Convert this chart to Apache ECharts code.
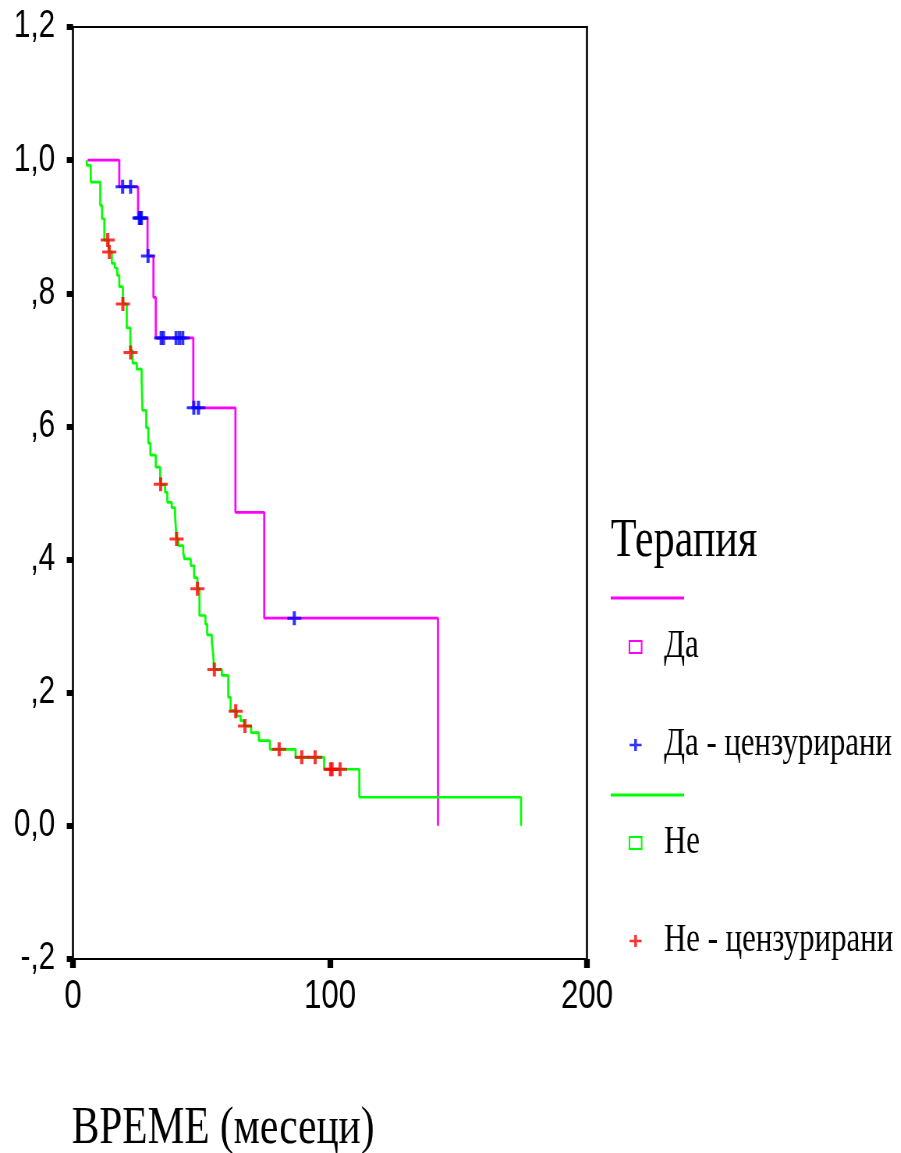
<!DOCTYPE html>
<html>
<head>
<meta charset="utf-8">
<script src="https://cdn.jsdelivr.net/npm/echarts@6/dist/echarts.min.js"></script>
<style>
  html, body { margin: 0; padding: 0; background: #ffffff; overflow: hidden; }
  #wrap { width: 901px; height: 1153px; overflow: hidden; }
  /* the drawing is laid out wide and squeezed horizontally, giving the narrow lettering */
  #chart { width: 1155px; height: 1153px; transform: scaleX(0.78); transform-origin: 0 0; }
</style>
</head>
<body>
<div id="wrap"><div id="chart"></div></div>
<script>
// Kaplan–Meier survival by therapy (time in months)

// group "Да": event times and survival after each step
const yesTimes = [5.7, 18.0, 25.3, 29.0, 31.3, 32.2, 46.8, 63.2, 74.4, 142.0];
const yesSurv  = [1.000, 0.960, 0.913, 0.856, 0.794, 0.733, 0.628, 0.471, 0.312, 0.000];

// group "Да": censored observations
const yesCensTimes = [19.3, 22.4, 25.8, 26.2, 26.6, 29.2, 34.3, 35.2, 40.1, 41.4, 42.7, 47.0, 48.8, 86.1];
const yesCensSurv  = [0.960, 0.960, 0.913, 0.913, 0.913, 0.856, 0.733, 0.733, 0.733, 0.733, 0.733, 0.628, 0.628, 0.312];

// group "Не": event times and survival after each step
const noTimes = [5.3, 5.4, 6.9, 10.6, 11.3, 12.2, 13.9, 15.1, 16.3, 17.2,
                 18.0, 19.4, 20.9, 22.3, 23.2, 24.8, 26.7, 27.0, 28.5, 29.3,
                 30.1, 32.2, 33.9, 34.2, 35.8, 36.7, 38.4, 39.7, 40.3, 41.0,
                 42.9, 43.3, 45.8, 47.1, 48.4, 49.2, 51.5, 52.2, 54.0, 54.6,
                 54.8, 57.9, 60.4, 61.3, 63.7, 65.2, 66.5, 69.3, 72.3, 76.6,
                 86.6, 97.7, 111.4, 174.3];
const noSurv  = [1.000, 0.992, 0.967, 0.932, 0.912, 0.880, 0.862, 0.845, 0.838, 0.827,
                 0.810, 0.784, 0.748, 0.714, 0.695, 0.686, 0.669, 0.624, 0.598, 0.575,
                 0.557, 0.539, 0.523, 0.512, 0.501, 0.486, 0.478, 0.466, 0.431, 0.421,
                 0.411, 0.401, 0.391, 0.373, 0.356, 0.316, 0.303, 0.287, 0.276, 0.256,
                 0.235, 0.226, 0.193, 0.173, 0.165, 0.158, 0.150, 0.140, 0.128, 0.115,
                 0.103, 0.085, 0.043, 0.000];

// group "Не": censored observations
const noCensTimes = [13.5, 14.1, 19.4, 22.4, 34.1, 40.3, 48.4, 55.0, 63.3, 66.9, 80.2, 89.0, 94.2, 100.2, 100.8, 103.9];
const noCensSurv  = [0.880, 0.862, 0.784, 0.711, 0.513, 0.431, 0.356, 0.235, 0.172, 0.150, 0.115, 0.103, 0.103, 0.085, 0.085, 0.085];

// axis ticks and their printed labels
const xTickValues = [0, 100, 200];
const xTickLabels = ['0', '100', '200'];
const yTickValues = [-0.2, 0.0, 0.2, 0.4, 0.6, 0.8, 1.0, 1.2];
const yTickLabels = ['-,2', '0,0', ',2', ',4', ',6', ',8', '1,0', '1,2'];

const legendTitle = 'Терапия';
const axisTitle = 'ВРЕМЕ (месеци)';
const seriesNames = ['Да', 'Да - цензурирани', 'Не', 'Не - цензурирани'];

const zip = (a, b) => a.map((v, i) => [v, b[i]]);
const pickLabel = (vals, labels) => (v) => {
  const i = vals.findIndex(t => Math.abs(t - v) < 1e-6);
  return i >= 0 ? labels[i] : '';
};

const SANS = '"Liberation Sans", Arial, sans-serif';
const SERIF = '"Liberation Serif", "Times New Roman", serif';
// plus mark, drawn wider than tall so it ends up square after the squeeze
const plusPath = 'path://M7,0H11V5.5H18V8.5H11V14H7V8.5H0V5.5H7Z';
const boxPath = 'path://M0,0H13V10H0Z';

const chart = echarts.init(document.getElementById('chart'), null, { renderer: 'canvas' });

chart.setOption({
  animation: false,
  backgroundColor: '#ffffff',
  grid: { left: 93.6, right: 402.4, top: 27, bottom: 194, containLabel: false },
  title: {
    text: axisTitle, left: 92, top: 1099, padding: 0,
    textStyle: { fontFamily: SERIF, fontSize: 53, fontWeight: 'normal', color: '#000', lineHeight: 60 }
  },
  xAxis: [{
    type: 'value', min: 0, max: 200, interval: 100, position: 'bottom',
    axisLine: { show: true, onZero: false, lineStyle: { color: '#000', width: 2 } },
    axisTick: { show: true, inside: false, length: 9, lineStyle: { color: '#000', width: 7.3 } },
    axisLabel: {
      show: true, margin: 18, showMinLabel: true, showMaxLabel: true,
      fontFamily: SANS, fontSize: 40, color: '#000',
      formatter: pickLabel(xTickValues, xTickLabels)
    },
    splitLine: { show: false }
  }, {
    type: 'value', min: 0, max: 200, interval: 100, position: 'top',
    axisLine: { show: true, onZero: false, lineStyle: { color: '#000', width: 2 } },
    axisTick: { show: false }, axisLabel: { show: false }, splitLine: { show: false }
  }],
  yAxis: [{
    type: 'value', min: -0.2, max: 1.2, interval: 0.2, position: 'left',
    axisLine: { show: true, onZero: false, lineStyle: { color: '#000', width: 2.6 } },
    axisTick: { show: true, inside: false, length: 8, lineStyle: { color: '#000', width: 6 } },
    axisLabel: {
      show: true, margin: 23, showMinLabel: true, showMaxLabel: true,
      fontFamily: SANS, fontSize: 38, color: '#000',
      formatter: pickLabel(yTickValues, yTickLabels)
    },
    splitLine: { show: false }
  }, {
    type: 'value', min: -0.2, max: 1.2, interval: 0.2, position: 'right',
    axisLine: { show: true, onZero: false, lineStyle: { color: '#000', width: 2.6 } },
    axisTick: { show: false }, axisLabel: { show: false }, splitLine: { show: false }
  }],
  legend: {
    orient: 'vertical', left: 806, top: 627, padding: 0,
    itemWidth: 63, itemHeight: 12, itemGap: 58, selectedMode: false,
    textStyle: { fontFamily: SERIF, fontSize: 39.5, color: '#000', lineHeight: 40 },
    data: [
      { name: seriesNames[0], icon: boxPath, itemStyle: { color: '#ffffff', borderColor: '#ff00ff', borderWidth: 2 } },
      { name: seriesNames[1], icon: plusPath, itemStyle: { color: '#0000ff' } },
      { name: seriesNames[2], icon: boxPath, itemStyle: { color: '#ffffff', borderColor: '#00ff00', borderWidth: 2 } },
      { name: seriesNames[3], icon: plusPath, itemStyle: { color: '#ff0000' } }
    ]
  },
  graphic: [
    { type: 'text', x: 783, y: 541.5,
      style: { text: legendTitle, font: '54px ' + SERIF, fill: '#000', align: 'left', verticalAlign: 'middle' } },
    { type: 'line', shape: { x1: 783, y1: 598, x2: 877, y2: 598 }, style: { stroke: '#ff00ff', lineWidth: 3 } },
    { type: 'line', shape: { x1: 783, y1: 795, x2: 877, y2: 795 }, style: { stroke: '#00ff00', lineWidth: 3 } }
  ],
  series: [
    {
      name: seriesNames[0], type: 'line', step: 'end', data: zip(yesTimes, yesSurv),
      showSymbol: false, symbol: 'none', silent: true, z: 2,
      lineStyle: { color: '#ff00ff', width: 2.7 }, itemStyle: { color: '#ff00ff' }
    },
    {
      name: seriesNames[1], type: 'scatter', data: zip(yesCensTimes, yesCensSurv),
      symbol: plusPath, symbolSize: [18, 14], silent: true, z: 4,
      itemStyle: { color: '#0000ff' }
    },
    {
      name: seriesNames[2], type: 'line', step: 'end', data: zip(noTimes, noSurv),
      showSymbol: false, symbol: 'none', silent: true, z: 2,
      lineStyle: { color: '#00ff00', width: 2.7 }, itemStyle: { color: '#00ff00' }
    },
    {
      name: seriesNames[3], type: 'scatter', data: zip(noCensTimes, noCensSurv),
      symbol: plusPath, symbolSize: [18, 14], silent: true, z: 4,
      itemStyle: { color: '#ff0000' }
    }
  ]
});
</script>
</body>
</html>
